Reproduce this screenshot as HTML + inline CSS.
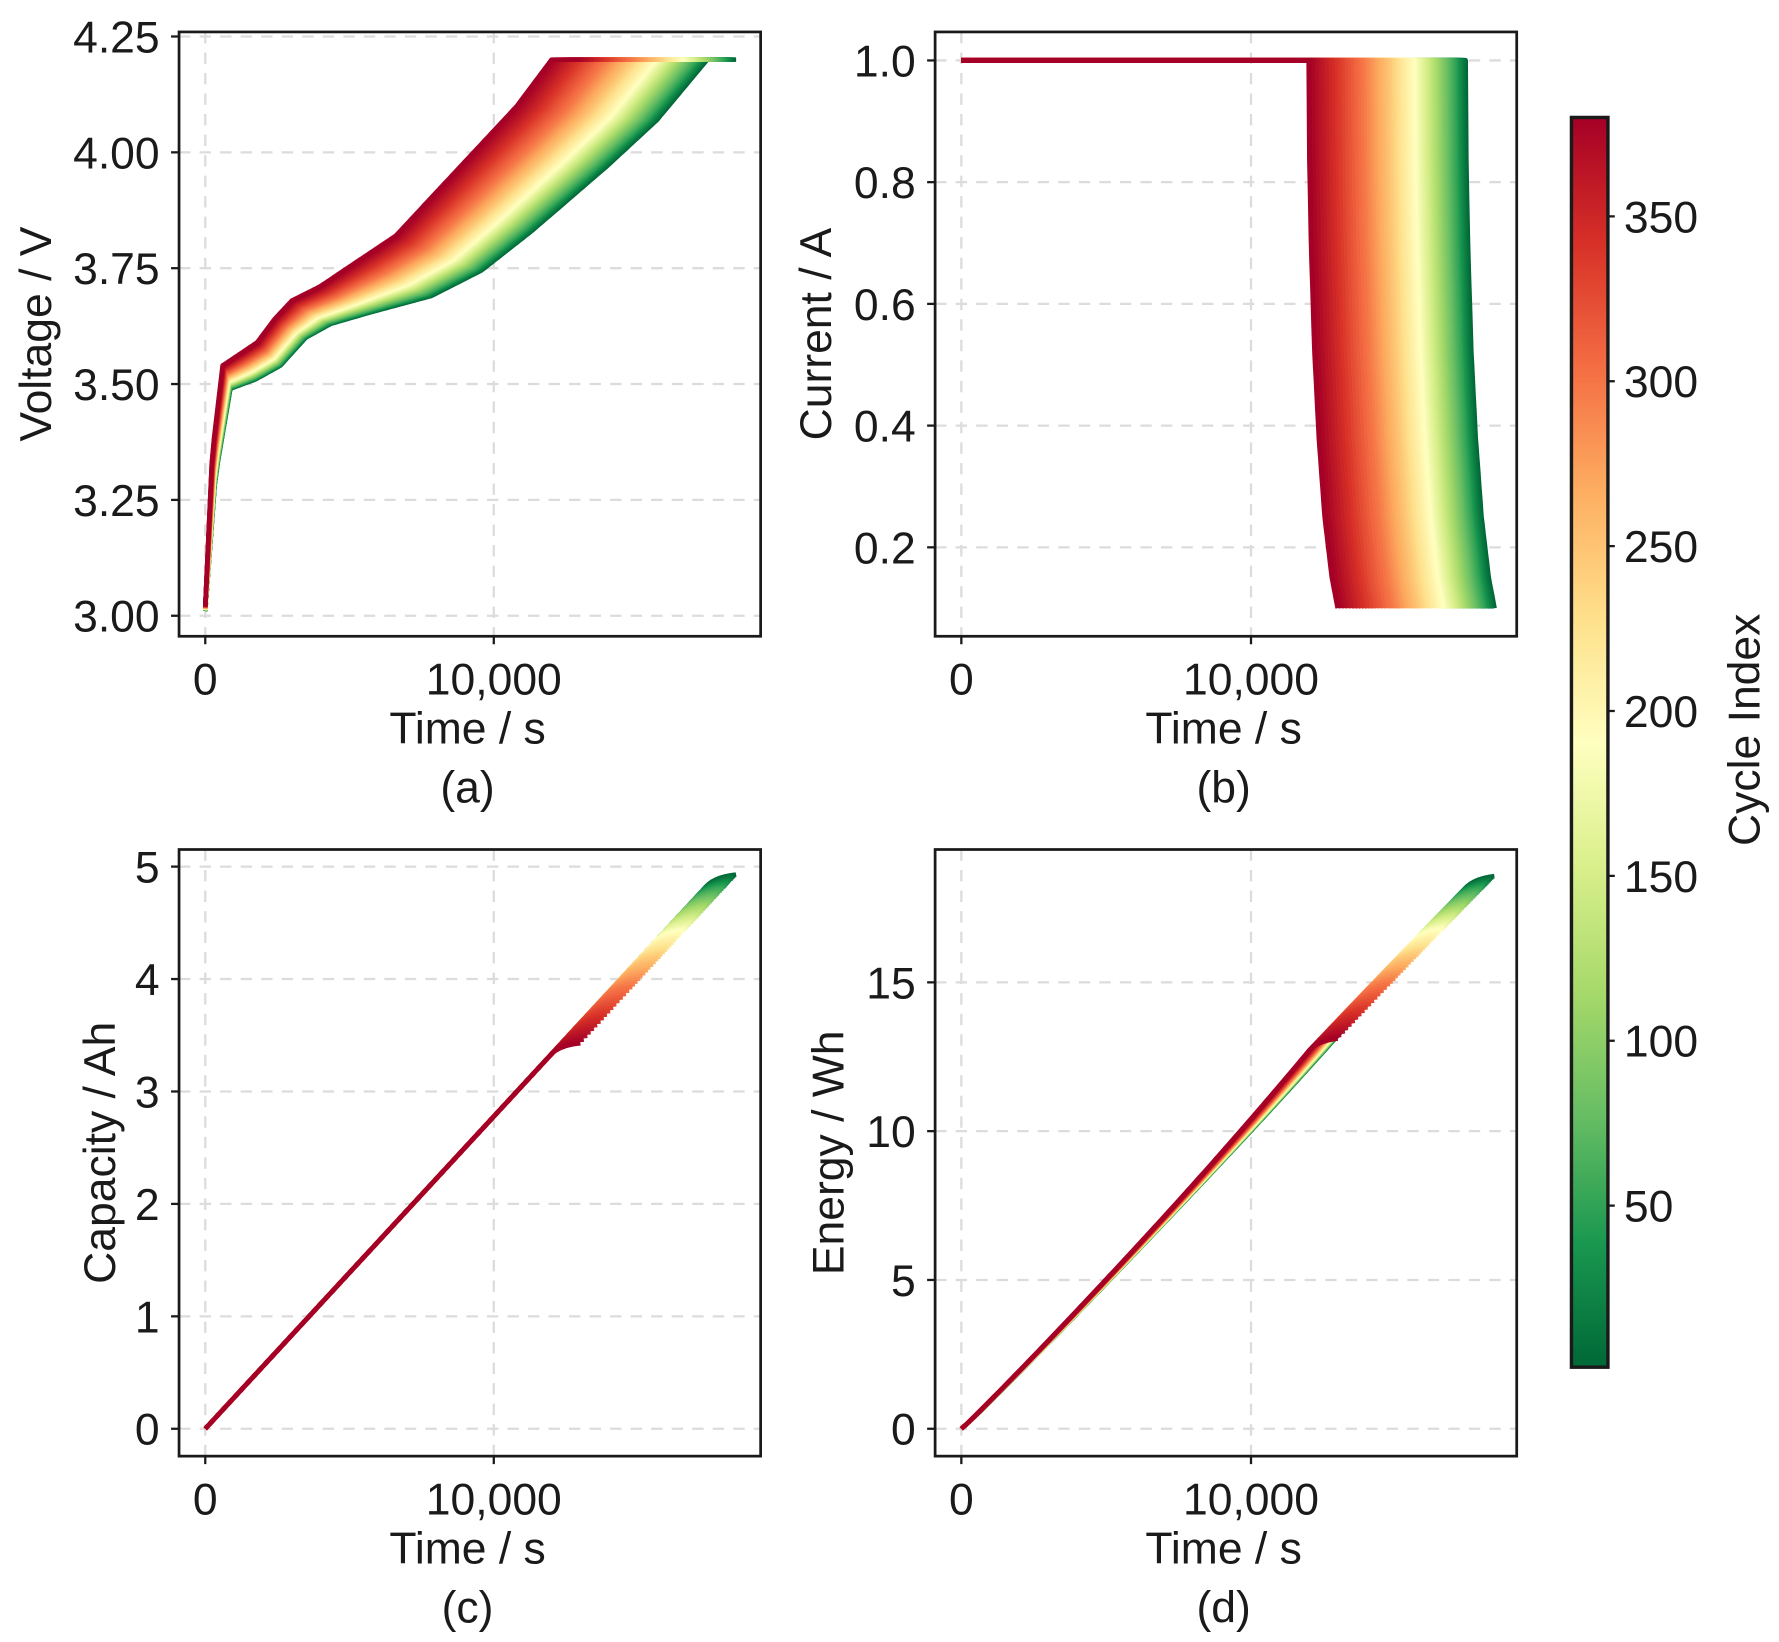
<!DOCTYPE html>
<html><head><meta charset="utf-8"><style>
html,body{margin:0;padding:0;background:#fff}
svg{display:block}
text{font-family:"Liberation Sans",Arial,sans-serif;fill:#1a1a1a}
</style></head><body>
<svg id="fig" width="1779" height="1642" viewBox="0 0 1560 1440" preserveAspectRatio="none" xmlns="http://www.w3.org/2000/svg">
<defs>
<linearGradient id="cmap" x1="0" y1="1" x2="0" y2="0">
<stop offset="0" stop-color="#006837"/><stop offset="0.1" stop-color="#1a9850"/><stop offset="0.2" stop-color="#66bd63"/><stop offset="0.3" stop-color="#a6d96a"/><stop offset="0.4" stop-color="#d9ef8b"/><stop offset="0.5" stop-color="#ffffbf"/><stop offset="0.6" stop-color="#fee08b"/><stop offset="0.7" stop-color="#fdae61"/><stop offset="0.8" stop-color="#f46d43"/><stop offset="0.9" stop-color="#d73027"/><stop offset="1" stop-color="#a50026"/>
</linearGradient>
</defs>
</svg>
<script>
// ---- data ----
const cycles      = [1,5,10,15,20,25,30,35,40,45,50,55,60,65,70,75,80,85,90,95,100,105,110,115,120,125,130,135,140,145,150,155,160,165,170,175,180,185,190,195,200,205,210,215,220,225,230,235,240,245,250,255,260,265,270,275,280,285,290,295,300,305,310,315,320,325,330,335,340,345,350,355,360,365,370,375,380];
const ccEndTime   = [17400,17360,17320,17275,17230,17190,17150,17110,17070,17035,17000,16950,16900,16850,16800,16750,16700,16650,16600,16550,16500,16450,16400,16350,16300,16250,16200,16150,16100,16050,16000,15950,15900,15850,15800,15750,15700,15650,15600,15525,15450,15375,15300,15225,15150,15075,15000,14925,14850,14775,14700,14610,14520,14430,14340,14250,14160,14070,13980,13890,13800,13690,13580,13470,13360,13250,13140,13030,12920,12810,12700,12585,12470,12355,12240,12120,12000];
const socFrac     = [0,0.02,0.05,0.1,0.15,0.2,0.25,0.33,0.45,0.55,0.65,0.8,0.9,1];
const voltFirst   = [3.01,3.30,3.49,3.51,3.54,3.60,3.63,3.655,3.69,3.745,3.83,3.97,4.07,4.2];
const voltLast    = [3.02,3.35,3.54,3.565,3.59,3.64,3.68,3.71,3.77,3.82,3.90,4.02,4.10,4.2];
const cvTauFrac   = [0,0.02,0.08,0.2,0.35,0.55,0.8,1];
const cvCurrent   = [1,0.85,0.7,0.52,0.38,0.25,0.15,0.1];
const cvDuration  = 1000;
const cbTicks     = [50,100,150,200,250,300,350];
const cMin = 1, cMax = 380;

const NS="http://www.w3.org/2000/svg";
const svg=document.getElementById('fig');
const FS=39;
function mk(tag,attrs,parent){const e=document.createElementNS(NS,tag);for(const k in attrs)e.setAttribute(k,attrs[k]);(parent||svg).appendChild(e);return e;}
function interp(xs,ys,x){if(x<=xs[0])return ys[0];for(let i=1;i<xs.length;i++){if(x<=xs[i]){const t=(x-xs[i-1])/(xs[i]-xs[i-1]);return ys[i-1]+t*(ys[i]-ys[i-1]);}}return ys[ys.length-1];}
const cmStops=["#006837","#1a9850","#66bd63","#a6d96a","#d9ef8b","#ffffbf","#fee08b","#fdae61","#f46d43","#d73027","#a50026"];
function hex(h){return [1,3,5].map(i=>parseInt(h.substr(i,2),16));}
function cmap(v){const t=Math.max(0,Math.min(1,(v-cMin)/(cMax-cMin)))*10;const i=Math.min(9,Math.floor(t));const f=t-i;const a=hex(cmStops[i]),b=hex(cmStops[i+1]);return 'rgb('+a.map((x,k)=>Math.round(x+(b[k]-x)*f)).join(',')+')';}

const panels={
 a:{x0:157,x1:667,y0:28,y1:558,xs:[180,433],ys:[540,32],yv:[3.0,4.25],yt:[3.00,3.25,3.50,3.75,4.00,4.25],yfmt:v=>v.toFixed(2),title:'Voltage / V',tx:32,lab:'(a)'},
 b:{x0:820,x1:1330,y0:28,y1:558,xs:[843,1097],ys:[480,53],yv:[0.2,1.0],yt:[0.2,0.4,0.6,0.8,1.0],yfmt:v=>v.toFixed(1),title:'Current / A',tx:716,lab:'(b)'},
 c:{x0:157,x1:667,y0:745,y1:1277,xs:[180,433],ys:[1253,760],yv:[0,5],yt:[0,1,2,3,4,5],yfmt:v=>String(v),title:'Capacity / Ah',tx:88,lab:'(c)'},
 d:{x0:820,x1:1330,y0:745,y1:1277,xs:[843,1097],ys:[1253,861.5],yv:[0,15],yt:[0,5,10,15],yfmt:v=>String(v),title:'Energy / Wh',tx:727,lab:'(d)'}
};
const names={a:'voltage',b:'current',c:'capacity',d:'energy'};
function X(p,t){return p.xs[0]+(t/10000)*(p.xs[1]-p.xs[0]);}
function Y(p,v){return p.ys[0]+(v-p.yv[0])/(p.yv[1]-p.yv[0])*(p.ys[1]-p.ys[0]);}

for(const key in panels){
 const p=panels[key];const n=names[key];
 const g=mk('g',{});
 
 
 p.g=g;
 [0,10000].forEach(t=>{const l=mk('line',{x1:X(p,t),x2:X(p,t),y1:p.y0,y2:p.y1,stroke:'#dcdcdc','stroke-width':2,'stroke-dasharray':'10,8'},g);});
 p.yt.forEach(v=>{const l=mk('line',{x1:p.x0,x2:p.x1,y1:Y(p,v),y2:Y(p,v),stroke:'#dcdcdc','stroke-width':2,'stroke-dasharray':'10,8'},g);});
 p.series=mk('g',{},g);
 
 
}

for(let ci=0;ci<cycles.length;ci++){
 const c=cycles[ci], T=ccEndTime[ci];
 const w=(ccEndTime[0]-T)/(ccEndTime[0]-ccEndTime[ccEndTime.length-1]);
 const vF=voltFirst.map((v,i)=>v+w*(voltLast[i]-v));
 const pts=[];
 const N=160;
 for(let i=0;i<=N;i++){const f=i/N;const t=f*T;pts.push({t:t,v:interp(socFrac,vF,f),i:1.0});}
 for(let i=1;i<=40;i++){const f=i/40;pts.push({t:T+f*cvDuration,v:4.2,i:interp(cvTauFrac,cvCurrent,f)});}
 let q=0,e=0;pts[0].q=0;pts[0].e=0;
 for(let k=1;k<pts.length;k++){const dt=pts[k].t-pts[k-1].t;const ia=(pts[k].i+pts[k-1].i)/2;const va=(pts[k].v+pts[k-1].v)/2;q+=ia*dt/3600;e+=ia*va*dt/3600;pts[k].q=q;pts[k].e=e;}
 const col=cmap(c);
 const acc={a:'v',b:'i',c:'q',d:'e'};
 for(const key in panels){
  const p=panels[key];
  const d=pts.map((o,k)=>(k?'L':'M')+X(p,o.t).toFixed(1)+','+Y(p,o[acc[key]]).toFixed(1)).join('');
  const path=mk('path',{d:d,fill:'none',stroke:col,'stroke-width':key==='b'?4.5:4,'stroke-linejoin':'round'},p.series);
  
  
 }
}

for(const key in panels){
 const p=panels[key];const g=p.g;const n=names[key];
 const fr=mk('rect',{x:p.x0,y:p.y0,width:p.x1-p.x0,height:p.y1-p.y0,fill:'none',stroke:'#1a1a1a','stroke-width':2.4},g);
 
 
 [0,10000].forEach(t=>{
  mk('line',{x1:X(p,t),x2:X(p,t),y1:p.y1,y2:p.y1+7,stroke:'#1a1a1a','stroke-width':2},g);
  const tx=mk('text',{x:X(p,t),y:p.y1+51,'font-size':FS,'text-anchor':'middle'},g);
  tx.textContent=t===0?'0':'10,000';
  
  
 });
 p.yt.forEach(v=>{
  mk('line',{x1:p.x0-7,x2:p.x0,y1:Y(p,v),y2:Y(p,v),stroke:'#1a1a1a','stroke-width':2},g);
  const tx=mk('text',{x:p.x0-17,y:Y(p,v)+14,'font-size':FS,'text-anchor':'end'},g);
  tx.textContent=p.yfmt(v);
  
  
 });
 const cx=(p.x0+p.x1)/2-2;
 const xt=mk('text',{x:cx,y:p.y1+94,'font-size':FS,'text-anchor':'middle'},g);
 xt.textContent='Time / s';
 
 
 const lb=mk('text',{x:cx,y:p.y1+146,'font-size':FS,'text-anchor':'middle'},g);
 lb.textContent=p.lab;
 
 
 const ym=(p.y0+p.y1)/2;
 const yt=mk('text',{x:p.tx,y:ym,'font-size':FS,'text-anchor':'middle',transform:'rotate(-90 '+p.tx+' '+ym+')','dominant-baseline':'central'},g);
 yt.textContent=p.title;
 
 
}

const cb={x0:1378,x1:1410,y0:103,y1:1199};
function CY(v){return cb.y1-(v-cMin)/(cMax-cMin)*(cb.y1-cb.y0);}
const cbg=mk('g',{});


const cbr=mk('rect',{x:cb.x0,y:cb.y0,width:cb.x1-cb.x0,height:cb.y1-cb.y0,fill:'url(#cmap)',stroke:'#1a1a1a','stroke-width':3},cbg);


cbTicks.forEach(v=>{
 mk('line',{x1:cb.x1,x2:cb.x1+6,y1:CY(v),y2:CY(v),stroke:'#1a1a1a','stroke-width':2},cbg);
 const t=mk('text',{x:1424,y:CY(v)+14,'font-size':FS},cbg);
 t.textContent=String(v);
 
 
});
const ct=mk('text',{x:1530,y:640,'font-size':FS,'text-anchor':'middle','dominant-baseline':'central',transform:'rotate(-90 1530 640)'},cbg);
ct.textContent='Cycle Index';


</script>
</body></html>
